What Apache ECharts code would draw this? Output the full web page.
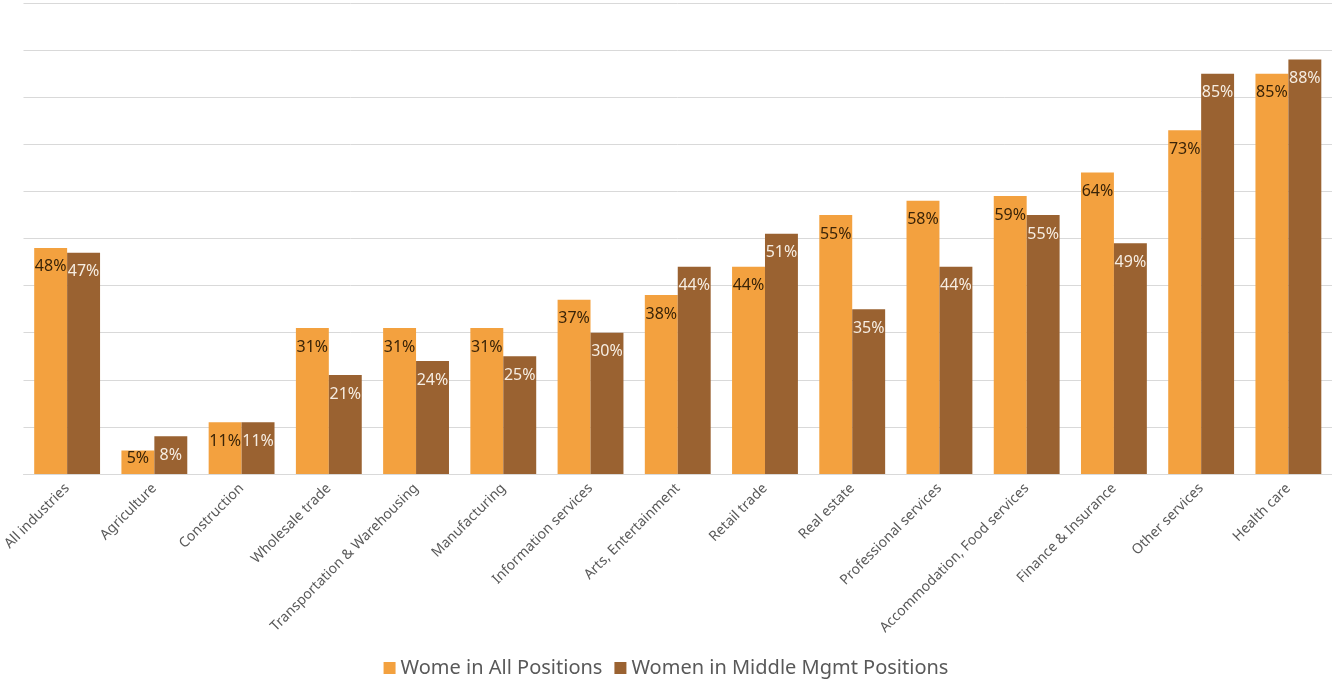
<!DOCTYPE html>
<html>
<head>
<meta charset="utf-8">
<title>Women by industry</title>
<script src="https://cdn.jsdelivr.net/npm/echarts@6/dist/echarts.min.js"></script>
<style>
  html, body { margin: 0; padding: 0; background: #ffffff; }
  #chart { width: 1332px; height: 681px; }
</style>
</head>
<body>
<div id="chart"></div>
<script>
// Industries along the x axis
const categories = [
  'All industries', 'Agriculture', 'Construction', 'Wholesale trade',
  'Transportation & Warehousing', 'Manufacturing', 'Information services',
  'Arts, Entertainment', 'Retail trade', 'Real estate', 'Professional services',
  'Accommodation, Food services', 'Finance & Insurance', 'Other services', 'Health care'
];

// Share of women (%) in all positions
const allPositions = [48, 5, 11, 31, 31, 31, 37, 38, 44, 55, 58, 59, 64, 73, 85];

// Share of women (%) in middle management positions
const middleMgmt = [47, 8, 11, 21, 24, 25, 30, 44, 51, 35, 44, 55, 49, 85, 88];

const seriesNames = ['Wome in All Positions', 'Women in Middle Mgmt Positions'];

const FONT = '"Noto Sans", "Open Sans", sans-serif';

// Short bars keep their label resting just above the axis instead of overflowing it
function toData(values) {
  return values.map(v => v < 8
    ? { value: v, label: { position: 'insideBottom', distance: 8 } }
    : v);
}

function barSeries(name, values, color, textColor) {
  return {
    name: name,
    type: 'bar',
    data: toData(values),
    barGap: '0%',
    barCategoryGap: '24.5%',
    itemStyle: { color: color },
    label: {
      show: true,
      position: 'insideTop',
      distance: 11,
      formatter: '{c}%',
      color: textColor,
      fontFamily: FONT,
      fontSize: 16
    }
  };
}

const chart = echarts.init(document.getElementById('chart'), null, { renderer: 'canvas' });

chart.setOption({
  animation: false,
  backgroundColor: '#ffffff',
  grid: { left: 22, right: -2, top: 3, bottom: 207, containLabel: false },
  legend: {
    bottom: -2,
    left: 'center',
    itemWidth: 12,
    itemHeight: 12,
    itemGap: 12,
    icon: 'rect',
    textStyle: { fontFamily: FONT, fontSize: 20, color: '#595959' },
    data: seriesNames
  },
  xAxis: {
    type: 'category',
    data: categories,
    axisLine: { show: true, lineStyle: { color: '#d9d9d9', width: 1 } },
    axisTick: { show: false },
    axisLabel: {
      rotate: 45,
      interval: 0,
      margin: 12,
      color: '#595959',
      fontFamily: FONT,
      fontSize: 14
    }
  },
  yAxis: {
    type: 'value',
    min: 0,
    max: 100,
    interval: 10,
    axisLine: { show: false },
    axisTick: { show: false },
    axisLabel: { show: false },
    splitLine: { lineStyle: { color: '#d9d9d9', width: 1 } }
  },
  series: [
    barSeries(seriesNames[0], allPositions, '#F3A13F', '#3a2408'),
    barSeries(seriesNames[1], middleMgmt, '#9A6231', '#f6ede2')
  ]
});
</script>
</body>
</html>
